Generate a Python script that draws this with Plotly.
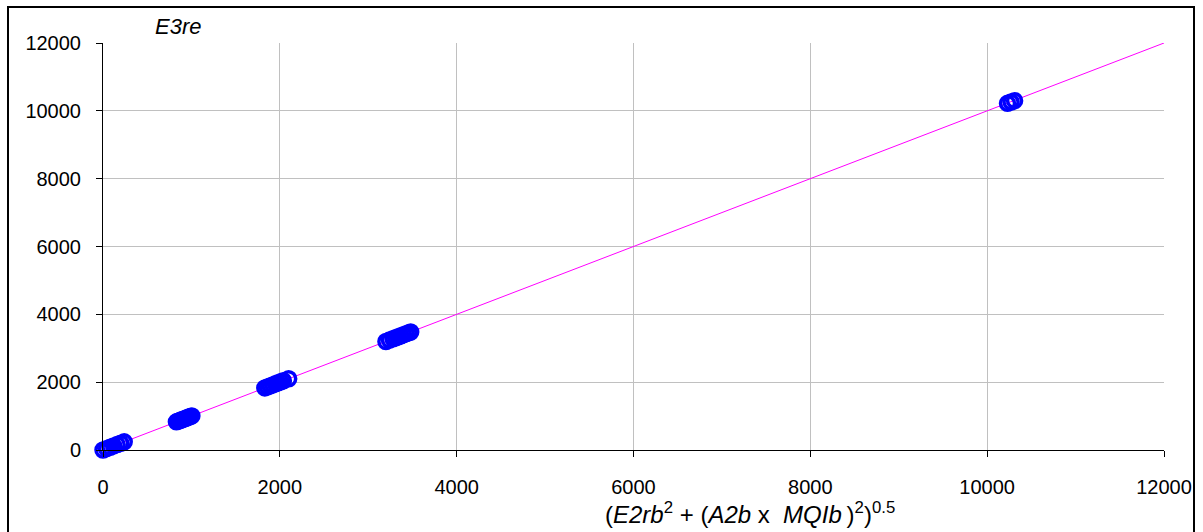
import plotly.graph_objects as go

# Data
x_vals = [0, 40, 80, 120, 160, 200, 240,
          830, 850, 870, 890, 910, 930, 950, 970, 990, 1005,
          1830, 1860, 1890, 1920, 1950, 1980, 2010, 2040, 2100,
          3200, 3240, 3280, 3310, 3340, 3370, 3400, 3430, 3460, 3480,
          10230, 10270, 10310]
y_vals = [0, 40, 80, 120, 160, 200, 240,
          830, 850, 870, 890, 910, 930, 950, 970, 990, 1005,
          1830, 1860, 1890, 1920, 1950, 1980, 2010, 2040, 2100,
          3200, 3240, 3280, 3310, 3340, 3370, 3400, 3430, 3460, 3480,
          10220, 10260, 10300]
line_x = [0, 12000]
line_y = [0, 12000]
tick_vals = [0, 2000, 4000, 6000, 8000, 10000, 12000]
tick_text = ["0", "2000", "4000", "6000", "8000", "10000", "12000"]
title_text = "<i>E3re</i>"
xlabel_text = ("(<i>E2rb</i><sup>2</sup> + (<i>A2b</i> x&nbsp; <i>MQIb</i>&#8201;)"
               "<sup>2</sup>)<sup>0.5</sup>")

FONT = "Liberation Sans, Arial, sans-serif"

fig = go.Figure()
fig.add_trace(go.Scatter(x=line_x, y=line_y, mode="lines",
                         line=dict(color="#FF00FF", width=1), hoverinfo="skip"))
fig.add_trace(go.Scatter(x=x_vals, y=y_vals, mode="markers", cliponaxis=False,
                         marker=dict(symbol="circle-open", size=14, color="#0000FF",
                                     line=dict(width=3.5, color="#0000FF"))))

axis_common = dict(
    range=[0, 12000], tickvals=tick_vals, ticktext=tick_text,
    showgrid=True, gridcolor="#C0C0C0", gridwidth=1,
    zeroline=False, showline=True, linecolor="black", linewidth=1,
    ticks="outside", ticklen=6, tickcolor="black",
    tickfont=dict(family=FONT, size=20, color="black"),
)

fig.update_layout(
    width=1203, height=532,
    margin=dict(l=103, r=39, t=43, b=82),
    paper_bgcolor="white", plot_bgcolor="white",
    showlegend=False,
    xaxis=dict(**axis_common, ticklabelstandoff=13),
    yaxis=dict(**axis_common, ticklabelstandoff=11),
    font=dict(family=FONT, color="black"),
)

fig.add_annotation(text=title_text, xref="paper", yref="paper",
                   x=(178 - 103) / 1061, y=(450 - 26) / 407,
                   xanchor="center", yanchor="middle", showarrow=False,
                   font=dict(family=FONT, size=22, color="black"))
fig.add_annotation(text=xlabel_text, xref="paper", yref="paper",
                   x=(750 - 103) / 1061, y=(450 - 513) / 407,
                   xanchor="center", yanchor="middle", showarrow=False,
                   font=dict(family=FONT, size=24, color="black"))

# outer chart frame
fig.add_shape(type="rect", xref="paper", yref="paper",
              x0=(8 - 103) / 1061, x1=(1194 - 103) / 1061,
              y0=(450 - 545) / 407, y1=(450 - 7) / 407,
              line=dict(color="black", width=2), fillcolor="rgba(0,0,0,0)", layer="below")

fig.write_html("out.html")
